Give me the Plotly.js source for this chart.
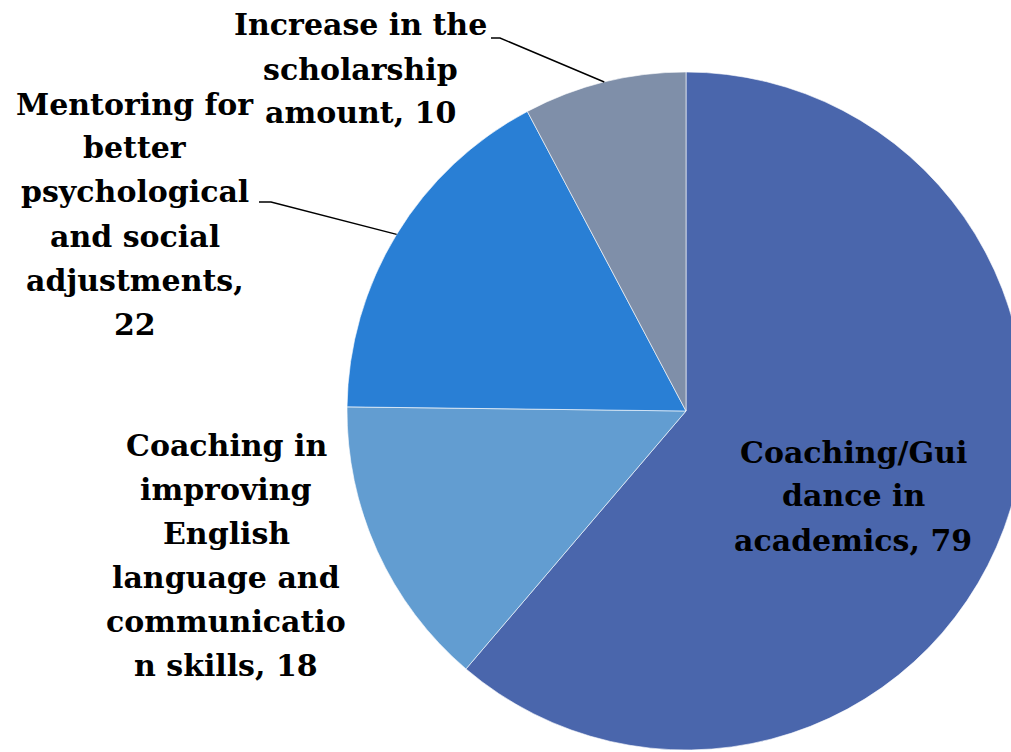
<!DOCTYPE html>
<html>
<head>
<meta charset="utf-8">
<script src="https://cdn.plot.ly/plotly-3.0.1.min.js"></script>
<style>
html,body{margin:0;padding:0;overflow:hidden;background:#fff;width:1011px;height:752px;}
#chart{width:1040px;height:752px;}
</style>
</head>
<body>
<div id="chart"></div>
<script>
// Data
const categories = [
  "Coaching/Guidance in academics",
  "Coaching in improving English language and communication skills",
  "Mentoring for better psychological and social adjustments",
  "Increase in the scholarship amount"
];
const values = [79, 18, 22, 10];
const labelLines = [
  ["Coaching/Gui", "dance in", "academics, 79"],
  ["Coaching in", "improving", "English", "language and", "communicatio", "n skills, 18"],
  ["Mentoring for", "better", "psychological", "and social", "adjustments,", "22"],
  ["Increase in the", "scholarship", "amount, 10"]
];
const colors = ["#4A66AC", "#629DD1", "#297FD5", "#7F8FA9"];

// Layout geometry (pixels)
const W = 1040, H = 752;
const cx = 686, cy = 411, R = 339;
const labelPos = [[853, 496], [226, 555], [135, 214], [360, 69]];
const lineGap = 44;
const leader = [null, null, {x0: 259, y0: 202, x1: 271}, {x0: 491, y0: 38, x1: 500}];
const font = {family: "DejaVu Serif, serif", size: 30, color: "#000"};

const px = x => x / W;
const py = y => 1 - y / H;

const total = values.reduce((a, b) => a + b, 0);
let cum = 0;
const annotations = [];
const shapes = [];
values.forEach((v, i) => {
  const mid = (cum + v / 2) / total * 2 * Math.PI;
  cum += v;
  const lines = labelLines[i];
  const n = lines.length;
  lines.forEach((t, k) => {
    const yy = labelPos[i][1] + (k - (n - 1) / 2) * lineGap;
    annotations.push({
      xref: "paper", yref: "paper", x: px(labelPos[i][0]), y: py(yy),
      xanchor: "center", yanchor: "middle", showarrow: false, align: "center",
      text: "<b>" + t + "</b>", font: font
    });
  });
  if (leader[i]) {
    const ex = cx + R * Math.sin(mid), ey = cy - R * Math.cos(mid);
    const L = leader[i];
    shapes.push({
      type: "path", xref: "paper", yref: "paper",
      path: `M ${px(L.x0)} ${py(L.y0)} L ${px(L.x1)} ${py(L.y0)} L ${px(ex)} ${py(ey)}`,
      line: {color: "#000", width: 1.4}
    });
  }
});

const trace = {
  type: "pie",
  labels: categories,
  values: values,
  sort: false,
  direction: "clockwise",
  rotation: 0,
  textinfo: "none",
  hoverinfo: "label+value",
  marker: {colors: colors, line: {color: "rgba(255,255,255,0.6)", width: 1}},
  domain: {x: [(cx - R) / W, (cx + R) / W], y: [1 - (cy + R) / H, 1 - (cy - R) / H]},
  showlegend: false
};

Plotly.newPlot("chart", [trace], {
  width: W, height: H,
  margin: {l: 0, r: 0, t: 0, b: 0},
  paper_bgcolor: "#fff",
  showlegend: false,
  annotations: annotations,
  shapes: shapes
}, {displayModeBar: false, staticPlot: true});
</script>
</body>
</html>
